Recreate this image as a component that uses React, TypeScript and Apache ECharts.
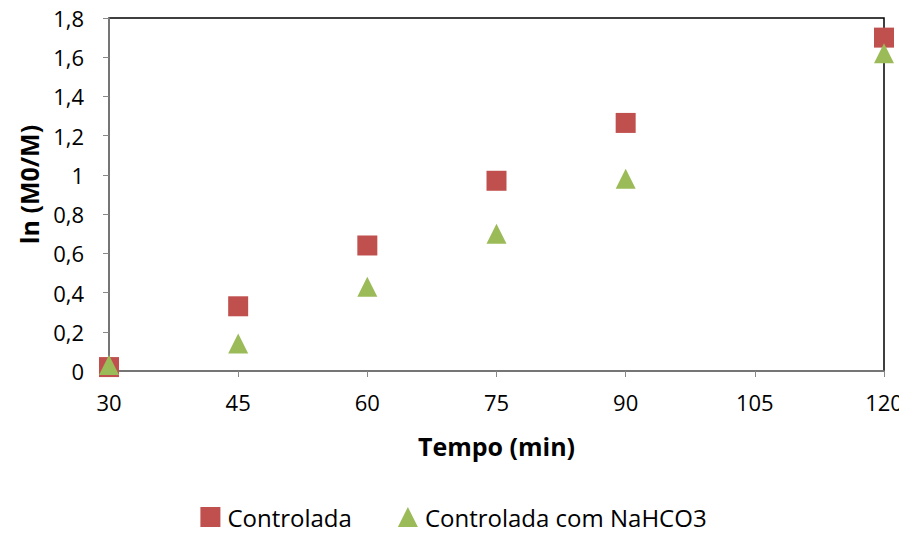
import React, { useEffect, useRef } from "react";
import * as echarts from "echarts";

const times = [30, 45, 60, 75, 90, 120];
const controlada = [0.02, 0.33, 0.64, 0.97, 1.265, 1.70];
const nahco3 = [0.03, 0.14, 0.43, 0.70, 0.98, 1.62];
const seriesNames = ["Controlada", "Controlada com NaHCO3"];
const xTitle = "Tempo (min)";
const yTitle = "ln (M0/M)";

const FONT = "'Open Sans', sans-serif";

export default function App() {
  const ref = useRef<HTMLDivElement>(null);
  useEffect(() => {
    if (!ref.current) return;
    const chart = echarts.init(ref.current, undefined, { renderer: "svg" });
    chart.setOption({
      animation: false,
      backgroundColor: "#fff",
      textStyle: { fontFamily: FONT },
      grid: {
        left: 109,
        right: 23,
        top: 18,
        bottom: 166,
        show: true,
        borderColor: "#000",
        borderWidth: 1.5,
        backgroundColor: "transparent",
      },
      legend: {
        bottom: 3,
        left: "center",
        itemGap: 46,
        itemWidth: 20,
        itemHeight: 20,
        textStyle: { fontSize: 24, color: "#000", fontFamily: FONT, padding: [0, 0, 0, 2] },
        data: [
          { name: seriesNames[0], icon: "rect" },
          { name: seriesNames[1], icon: "triangle" },
        ],
      },
      xAxis: {
        type: "value",
        min: 30,
        max: 120,
        interval: 15,
        name: xTitle,
        nameLocation: "middle",
        nameGap: 62,
        nameTextStyle: { fontSize: 25, fontWeight: "bold", color: "#000", fontFamily: FONT },
        axisLine: { show: true, lineStyle: { color: "#888", width: 1.5 } },
        axisTick: { show: true, inside: false, length: 6, lineStyle: { color: "#888" } },
        axisLabel: { fontSize: 22, color: "#000", margin: 20, fontFamily: FONT },
        splitLine: { show: false },
      },
      yAxis: {
        type: "value",
        min: 0,
        max: 1.8,
        interval: 0.2,
        name: yTitle,
        nameLocation: "middle",
        nameGap: 68,
        nameRotate: 90,
        nameTextStyle: {
          fontSize: 25,
          fontWeight: "bold",
          color: "#000",
          fontFamily: FONT,
          padding: [0, 0, 0, 20],
        },
        axisLine: { show: true, lineStyle: { color: "#888", width: 1.5 } },
        axisTick: { show: true, inside: false, length: 6, lineStyle: { color: "#888" } },
        axisLabel: {
          fontSize: 22,
          color: "#000",
          margin: 25,
          fontFamily: FONT,
          formatter: (v: number) => {
            const r = Math.round(v * 10) / 10;
            return String(r).replace(".", ",");
          },
        },
        splitLine: { show: false },
      },
      series: [
        {
          name: seriesNames[0],
          type: "scatter",
          symbol: "rect",
          symbolSize: 20,
          itemStyle: { color: "#C0504D", opacity: 1 },
          data: times.map((t, i) => [t, controlada[i]]),
          z: 3,
        },
        {
          name: seriesNames[1],
          type: "scatter",
          symbol: "triangle",
          symbolSize: 20,
          itemStyle: { color: "#9BBB59", opacity: 1 },
          data: times.map((t, i) => [t, nahco3[i]]),
          z: 4,
        },
      ],
    });
    return () => chart.dispose();
  }, []);
  return <div ref={ref} style={{ width: 907, height: 537, margin: -8 }} />;
}
